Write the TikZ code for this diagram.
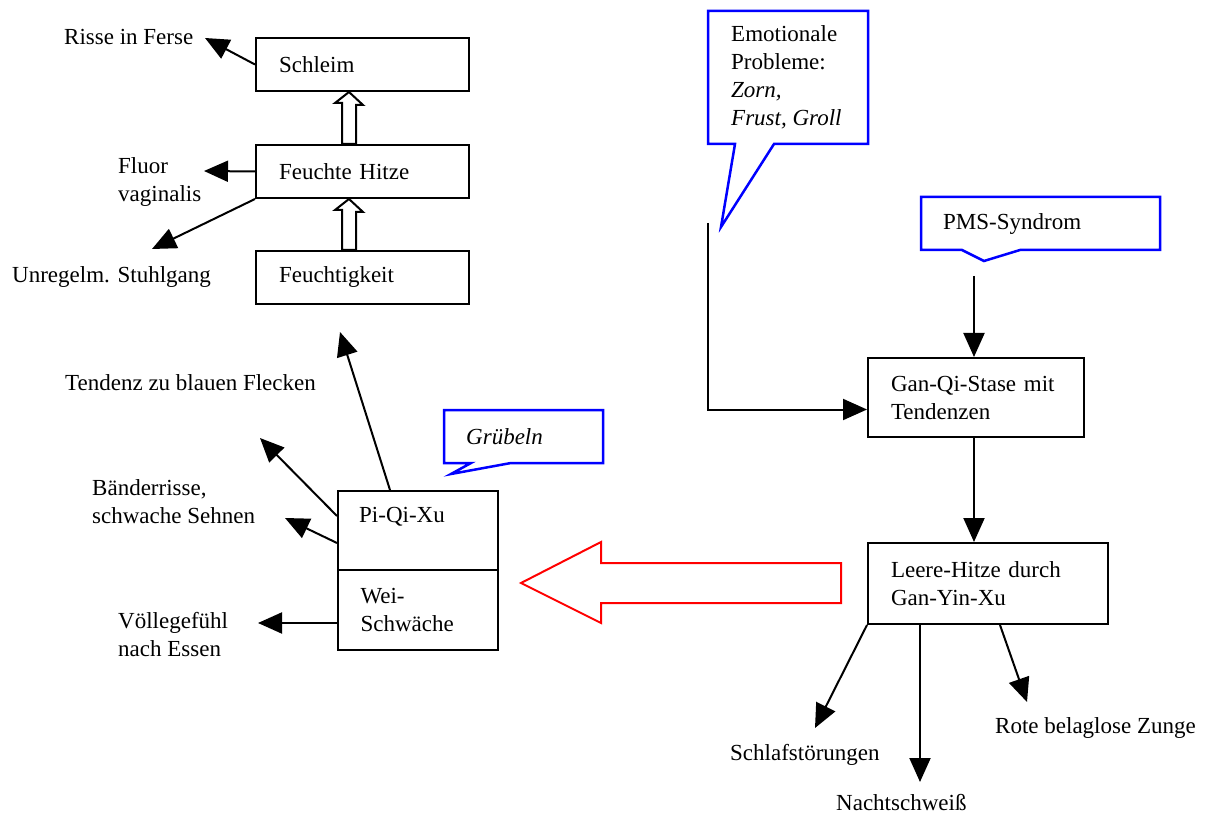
\documentclass[tikz,border=0pt]{standalone}
\usepackage{fontspec}
\setmainfont{Liberation Serif}
\usetikzlibrary{arrows.meta,calc}
\begin{document}
\begin{tikzpicture}[x=1pt,y=-1pt,
  every node/.style={font=\fontsize{23}{28}\selectfont},
  box/.style={draw,line width=2pt,inner xsep=23pt,inner ysep=0pt,align=left,anchor=north west},
  lbl/.style={inner sep=0pt,anchor=west,align=left},
  conn/.style={line width=2pt,-{Triangle[length=24pt,width=21pt]}},
  callout/.style={draw=blue,line width=2.5pt,line join=miter},
  hollow/.style={draw,line width=2pt,fill=white,line join=miter}]
\useasboundingbox (0,0) rectangle (1213,818);

% left top chain
\node[box,minimum width=213pt,minimum height=53pt,text width=167pt] (schleim) at (255,37) {Schleim};
\node[box,minimum width=213pt,minimum height=53pt,text width=167pt] (fhitze) at (255,144) {Feuchte Hitze};
\node[box,minimum width=213pt,minimum height=53pt,text width=167pt] (feucht) at (255,250) {Feuchtigkeit};

% hollow up arrows
\draw[hollow] (schleim.south -| 349,0) coordinate (h1tip)
  -- ++(14,13) -- ++(-7,0) -- (356,144) -- (342,144) -- (342,103) -- (335,103) -- cycle;
\draw[hollow] (fhitze.south -| 349,0) coordinate (h2tip)
  -- ++(14,13) -- ++(-7,0) -- (356,250) -- (342,250) -- (342,210) -- (335,210) -- cycle;

\node[lbl] (risse) at (64,37) {Risse in Ferse};
\node[lbl] (fluor) at (118,182) {Fluor\\vaginalis};
\node[lbl] (unreg) at (12,277) {Unregelm. Stuhlgang};
\coordinate (trisse) at (205,38);
\coordinate (tfluor) at (204,171);
\coordinate (tunreg) at (152,249);
\draw[conn] (schleim.west) -- (trisse);
\draw[conn] (fhitze.west) -- (tfluor);
\draw[conn] (fhitze.south west) -- (tunreg);

% Pi-Qi-Xu / Wei-Schwaeche
\node[draw,line width=2pt,minimum width=160pt,minimum height=79pt,anchor=north west,inner sep=0pt] (piqi) at (337,490) {};
\node[lbl,anchor=west] (piqit) at (359,517) {Pi-Qi-Xu};
\node[box,minimum width=160pt,minimum height=80pt,text width=115pt,inner xsep=22pt] (wei) at (337,569) {Wei-\\Schwäche};

\node[lbl] (tend) at (65,383) {Tendenz zu blauen Flecken};
\node[lbl] (baender) at (92,502) {Bänderrisse,\\schwache Sehnen};
\node[lbl] (voelle) at (118,635) {Völlegefühl\\nach Essen};
\coordinate (ttend) at (340,332);
\coordinate (tb1) at (260,438);
\coordinate (tb2) at (285,518);
\coordinate (tvoelle) at (258,623);
\draw[conn] ($(piqi.north west)+(53,0)$) -- (ttend);
\draw[conn] ($(piqi.north west)+(0,26)$) -- (tb1);
\draw[conn] ($(piqi.north west)+(0,53)$) -- (tb2);
\draw[conn] ($(wei.north west)+(0,54)$) -- (tvoelle);

% Gruebeln callout
\node[lbl] (grueb) at (466,437) {\itshape Grübeln};
\draw[callout] (444,410) -- (603,410) -- (603,463) -- (511,463) -- (451,474) -- (471,463) -- (444,463) -- cycle;

% Emotional callout
\node[lbl] (emo) at (731,77) {Emotionale\\Probleme:\\\itshape Zorn,\\\itshape Frust, Groll};
\draw[callout] (708,11) -- (868,11) -- (868,144) -- (774,144) -- (721,227) -- (735,144) -- (708,144) -- cycle;

% PMS callout
\node[lbl] (pms) at (943,224) {PMS-Syndrom};
\draw[callout] (921,197) -- (1160,197) -- (1160,250) -- (1020,250) -- (984,261) -- (962,250) -- (921,250) -- cycle;

% right chain
\node[box,minimum width=216pt,minimum height=79pt,text width=170pt] (gan) at (867,357) {Gan-Qi-Stase mit\\Tendenzen};
\node[box,minimum width=240pt,minimum height=81pt,text width=194pt] (leere) at (867,542) {Leere-Hitze durch\\Gan-Yin-Xu};

\coordinate (emostart) at (708,223);
\coordinate (pmsstart) at (974,276);
\draw[conn] (emostart) |- ($(gan.west)+(0,12)$);
\draw[conn] (pmsstart) -- (pmsstart |- gan.north);
\draw[conn] (pmsstart |- gan.south) -- (pmsstart |- leere.north);

% red hollow arrow
\draw[draw=red,line width=2pt,line join=miter] (841,563) -- (601,563) -- (601,542) -- (521,583) -- (601,623) -- (601,603) -- (841,603) -- cycle;

% bottom labels
\node[lbl] (schlaf) at (730,755) {Schlafstörungen};
\node[lbl] (nacht) at (836,803) {Nachtschweiß};
\node[lbl] (rote) at (995,728) {Rote belaglose Zunge};
\coordinate (tschlaf) at (815,728);
\coordinate (tnacht) at (920,782);
\coordinate (trote) at (1027,702);
\draw[conn] (leere.south west) -- (tschlaf);
\draw[conn] ($(leere.south west)+(53,0)$) -- (tnacht);
\draw[conn] ($(leere.south west)+(133,0)$) -- (trote);
\end{tikzpicture}
\end{document}
